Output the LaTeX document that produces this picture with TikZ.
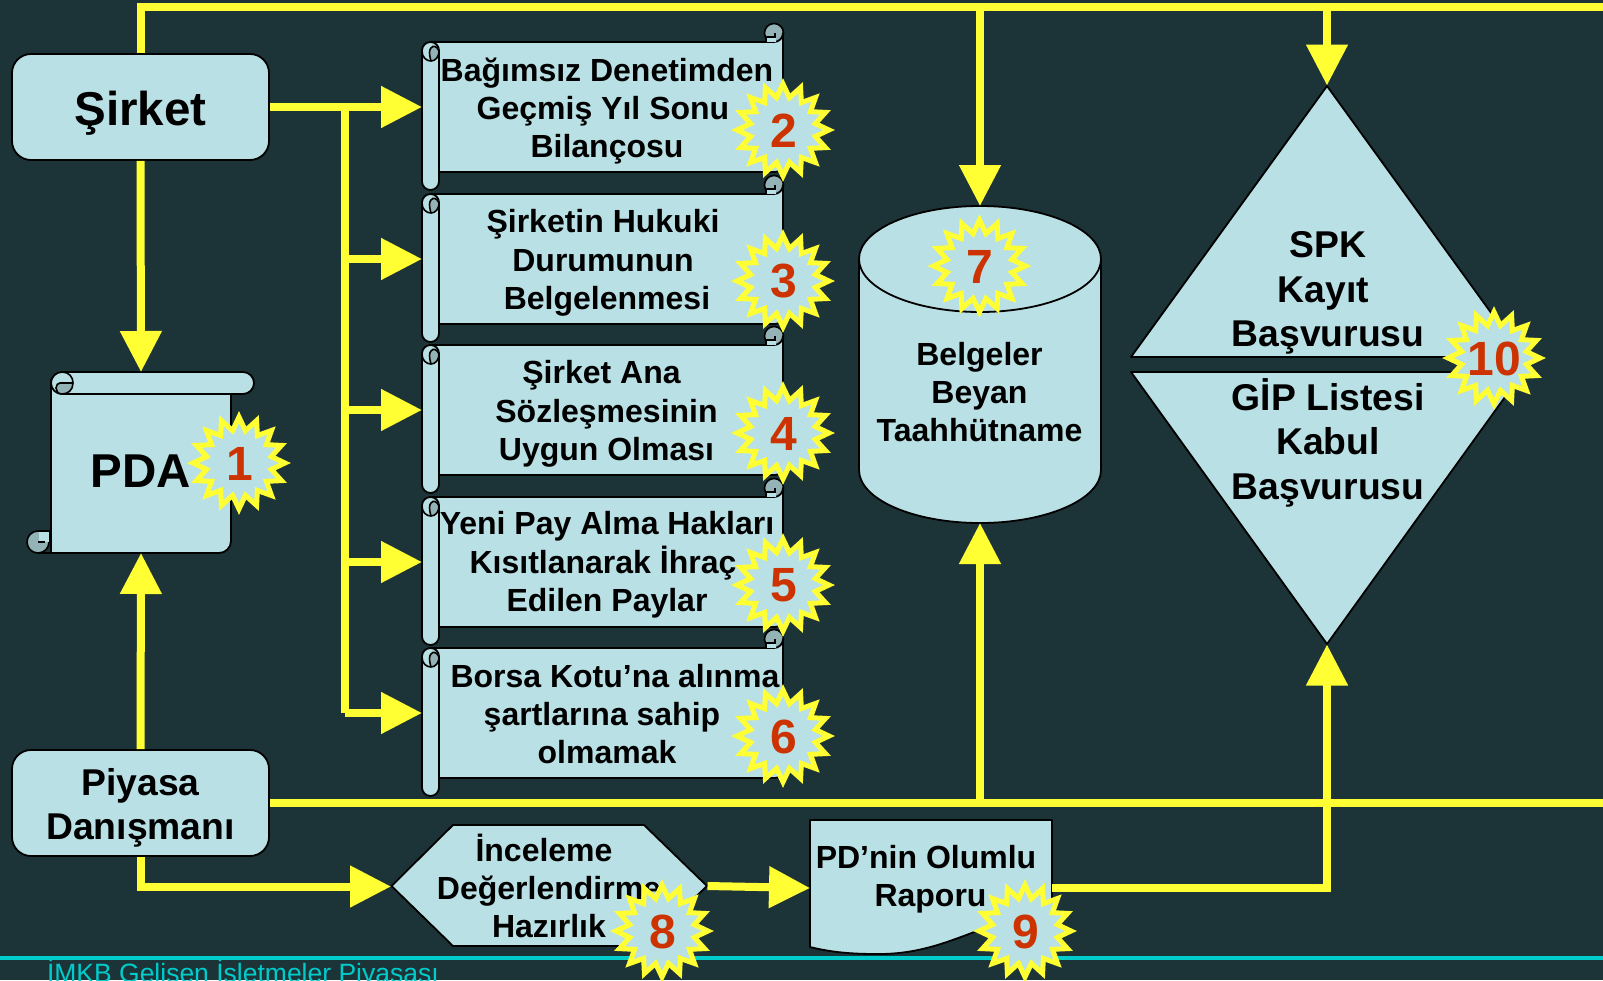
\documentclass[tikz,border=0pt]{standalone}
\usepackage{fontspec}
\setmainfont{Liberation Sans}
\usetikzlibrary{arrows.meta,calc}
\definecolor{bgc}{RGB}{28,52,56}
\definecolor{fillc}{RGB}{185,224,228}
\definecolor{curlc}{RGB}{148,179,182}
\definecolor{yel}{RGB}{255,255,51}
\definecolor{redc}{RGB}{204,51,0}
\definecolor{tealc}{RGB}{0,204,204}
\tikzset{
 x=1pt,y=-1pt,
 shapeline/.style={draw=black,line width=1.8pt,fill=fillc,line join=round},
 curlfill/.style={draw=black,line width=1.6pt,fill=curlc},
 inkline/.style={draw=black,line width=1.6pt},
 conn/.style={draw=yel,line width=8pt},
 arr/.style={conn,-{Triangle[length=41pt,width=40pt,color=yel]}},
 lbl/.style={font=\bfseries\fontsize{32}{38.4}\selectfont,align=center,text=black,inner sep=0pt},
 biglbl/.style={font=\bfseries\fontsize{37.3}{44.5}\selectfont,align=center,text=black,inner sep=0pt},
 anch/.style={inner sep=0pt,minimum size=0pt,outer sep=0pt},
 numl/.style={font=\bfseries\fontsize{48}{48}\selectfont,text=redc,inner sep=0pt},
 starline/.style={draw=yel,line width=5pt,fill=fillc,miter limit=10},
}
\newcommand{\burst}[4]{% name, x, y, number
 \draw[starline] ($(#2,#3)+(90:46)$)
  \foreach \k in {1,...,15}{ -- ($(#2,#3)+({90+22.5*(\k-0.5)}:33)$) -- ($(#2,#3)+({90+22.5*\k}:46)$) }
  -- ($(#2,#3)+({90-11.25}:33)$) -- cycle;
 \node[numl] (#1) at (#2+0.5,#3+0.5) {#4};
}
\newcommand{\hscroll}[2]{% name, top y
 \draw[curlfill] (774,#2-9) circle[radius=9.5pt];
 \path[shapeline] (431,#2) -- (774,#2) arc[start angle=-90,end angle=0,radius=9pt] -- (783,#2+122)
   arc[start angle=0,end angle=-90,radius=8pt] -- (431,#2+130) -- cycle;
 \fill[fillc] (766,#2-5) rectangle (776,#2);
 \draw[inkline] (766,#2-5) -- (775,#2-5) -- (775,#2-9);
 \draw[inkline] (766,#2-5) -- (766,#2);
 \draw[shapeline,rounded corners=8.5pt] (422,#2) rectangle (439,#2+148);
 \fill[curlc] (431,#2+18) .. controls (436,#2+18) and (439,#2+14) .. (439,#2+9)
    .. controls (439,#2+4) and (433,#2+2) .. (431,#2+6) .. controls (429,#2+9) and (431,#2+14) .. cycle;
 \draw[inkline] (422,#2+9) .. controls (422,#2+15) and (426,#2+19) .. (431,#2+19)
    .. controls (436,#2+19) and (439,#2+14) .. (439,#2+9);
 \draw[inkline] (431,#2+19) .. controls (429,#2+12) and (429,#2+8) .. (431,#2+6) .. controls (433,#2+3) and (437,#2+4) .. (439,#2+9);
 \node[anch,minimum width=361pt,minimum height=130pt] (#1) at (602.5,#2+65) {};
}
\begin{document}
\begin{tikzpicture}
\useasboundingbox (0,0) rectangle (1603,980);
\fill[bgc] (0,0) rectangle (1603,980);

% footer
\fill[tealc] (0,956) rectangle (1603,960);
\node[anch,anchor=base west,text=tealc,font=\fontsize{26.5}{27}\selectfont] (footer) at (47,982) {İMKB Gelişen İşletmeler Piyasası};

% rounded boxes
\node[shapeline,rounded corners=19pt,minimum width=257pt,minimum height=106pt,inner sep=0pt,font=\bfseries\fontsize{47.5}{48}\selectfont,text height=36pt,text depth=0pt] (sirket) at (140.5,107) {Şirket};
\node[shapeline,rounded corners=19pt,minimum width=257pt,minimum height=106pt,inner sep=0pt,font=\bfseries\fontsize{37.3}{44.5}\selectfont,align=center] (piyasa) at (140.5,803) {\rule{0pt}{37pt}Piyasa\\Danışmanı};

% PDA scroll
\draw[shapeline] (51,380) -- (51,553) -- (219,553) arc[start angle=-90,end angle=0,radius=12pt] -- (231,383) -- cycle;
\draw[curlfill] (38,542) circle[radius=11pt];
\fill[fillc] (39,532) rectangle (50,542);
\draw[inkline] (38,531) -- (51,531) (38,542) -- (45,542) (38,553) -- (60,553) (50,531) -- (50,542);
\draw[shapeline,rounded corners=11pt] (51,372) rectangle (254,394);
\fill[curlc] (60,383) -- (73,383) .. controls (73,390) and (68,394) .. (62,394) .. controls (57,394) and (56,390) .. (56,388) .. controls (56,385) and (58,383) .. cycle;
\draw[inkline] (73,383) -- (60,383) .. controls (58,383) and (56,385) .. (56,388) .. controls (56,391) and (58,394) .. (62,394);
\draw[inkline] (62,372) .. controls (69,372) and (73,377) .. (73,383) .. controls (73,390) and (68,394) .. (62,394);
\node[anch,minimum width=180pt,minimum height=181pt,font=\bfseries\fontsize{47.5}{48}\selectfont,text height=50pt,text depth=0pt] (pda) at (141,462.5) {PDA};

% horizontal scrolls
\hscroll{sa}{42}
\hscroll{sb}{194}
\hscroll{sc}{345}
\hscroll{sd}{497}
\hscroll{se}{648}
\node[lbl] (ta) at (607,111) {Bağımsız Denetimden\\\kern-8pt Geçmiş Yıl Sonu\\Bilançosu};
\node[lbl] (tb) at (603,263) {Şirketin Hukuki\\Durumunun\\\kern8pt Belgelenmesi};
\node[lbl] (tc) at (606.5,414) {\kern-10pt Şirket Ana\\Sözleşmesinin\\Uygun Olması};
\node[lbl] (td) at (607,565) {Yeni Pay Alma Hakları\\\kern-8pt Kısıtlanarak İhraç\\Edilen Paylar};
\node[lbl] (te) at (615,714) {Borsa Kotu’na alınma\\\kern-26pt şartlarına sahip\\\kern-16pt olmamak};

% cylinder
\path[shapeline] (859,259) arc[start angle=180,end angle=0,x radius=121pt,y radius=53pt]
  -- (1101,470) arc[start angle=0,end angle=-180,x radius=121pt,y radius=53pt] -- cycle;
\draw[black,line width=1.8pt] (859,259) arc[start angle=180,end angle=360,x radius=121pt,y radius=53pt];
\node[anch,minimum width=242pt,minimum height=317pt] (cyl) at (980,364.5) {};
\node[lbl] (tcyl) at (979.5,392) {Belgeler\\Beyan\\Taahhütname};

% decision halves
\path[shapeline,miter limit=10] (1327,86) -- (1523,357) -- (1131,357) -- cycle;
\path[shapeline,miter limit=10] (1131,372) -- (1523,372) -- (1327,644) -- cycle;
\node[anch,minimum size=1pt] (dtop) at (1327,86) {};
\node[anch,minimum size=1pt] (dbot) at (1327,644) {};
\node[biglbl] (tspk) at (1328,293) {SPK\\\kern-9pt Kayıt\\Başvurusu};
\node[biglbl] (tgip) at (1328,442.5) {GİP Listesi\\Kabul\\Başvurusu};

% hexagon
\path[shapeline] (391.5,886) -- (453,825) -- (644,825) -- (707,886) -- (644,946) -- (453,946) -- cycle;
\node[anch,minimum size=1pt] (hexl) at (391.5,886.5) {};
\node[anch,minimum size=1pt] (hexr) at (707,886) {};
\node[lbl] (thex) at (549,886) {\kern-10pt İnceleme\\Değerlendirme\\Hazırlık};

% document
\path[shapeline] (810,820) -- (1052,820) -- (1052,915) .. controls (985,915) and (950,955) .. (876,954) .. controls (850,954) and (830,952) .. (810,947) -- cycle;
\node[anch,minimum width=242pt,minimum height=136pt] (doc) at (931,888) {};
\node[lbl,align=center] (tdoc) at (926,879) {PD’nin Olumlu\\\kern9pt Raporu};

% connectors
\coordinate (tl) at (140.5,6.5);
\coordinate (tr) at (1603,6.5);
\coordinate (mr) at (1603,803);
\coordinate (trunk) at (345,107);
\draw[conn] (sirket.north) -- (tl) -- (tr);
\draw[arr] (tl -| cyl.north) -- (cyl.north);
\draw[arr] (tl -| dtop) -- (dtop);
\draw[arr] (sirket.south) -- (pda.north);
\draw[arr] (piyasa.north) -- (pda.south);
\draw[conn] (piyasa.east) -- (mr);
\draw[arr] (mr -| cyl.south) -- (cyl.south);
\draw[arr] (sirket.east) -- (sa.west);
\draw[conn] (trunk) -- (trunk |- se.west);
\draw[arr] (trunk |- sb.west) -- (sb.west);
\draw[arr] (trunk |- sc.west) -- (sc.west);
\draw[arr] (trunk |- sd.west) -- (sd.west);
\draw[arr] (trunk |- se.west) -- (se.west);
\draw[arr] (piyasa.south) |- (hexl);
\draw[arr] (hexr) -- (doc.west);
\draw[arr] (doc.east) -| (dbot);

% bursts
\burst{n1}{239}{463}{1}
\burst{n2}{783}{130}{2}
\burst{n3}{783}{281}{3}
\burst{n4}{783}{433}{4}
\burst{n5}{783}{585}{5}
\burst{n6}{783}{736}{6}
\burst{n7}{979.5}{266}{7}
\burst{n8}{662}{931}{8}
\burst{n9}{1025}{931}{9}
\burst{n10}{1494}{358}{10}
\end{tikzpicture}
\end{document}
